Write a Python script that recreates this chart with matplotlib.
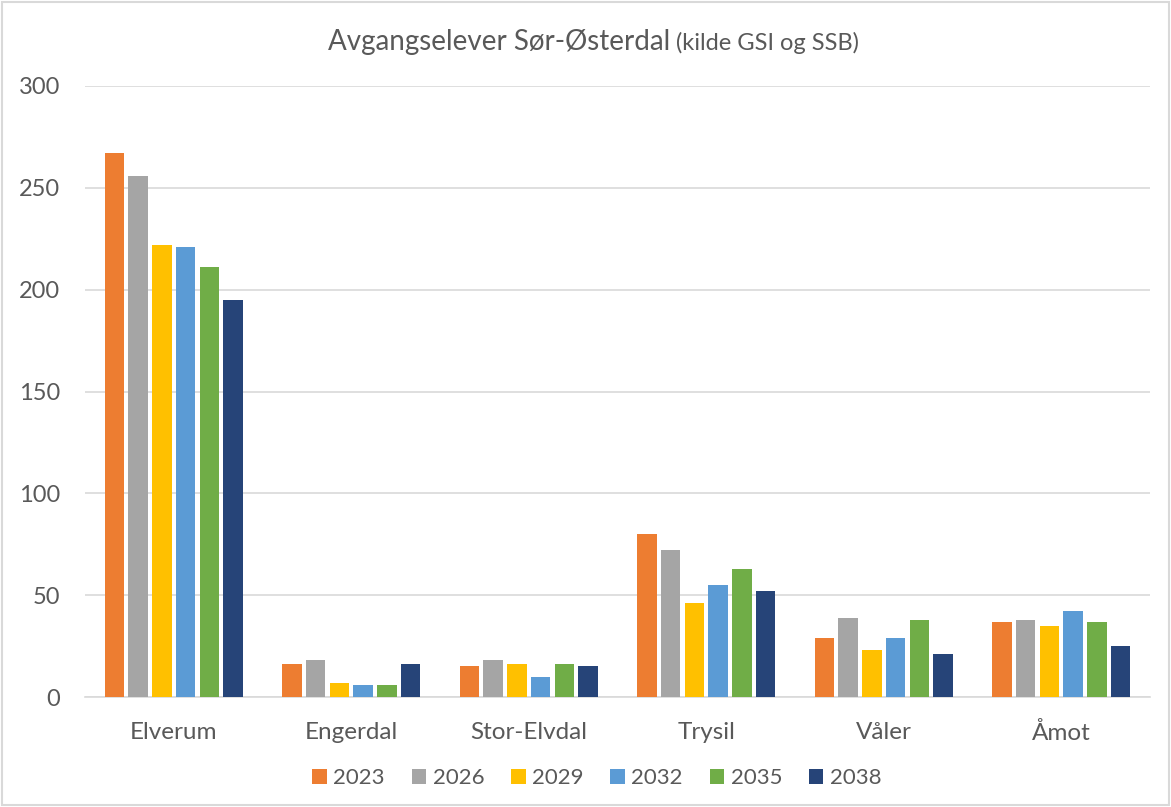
import matplotlib
matplotlib.use("Agg")
import matplotlib.pyplot as plt
import numpy as np
from matplotlib.patches import Rectangle

# Avgangselever per kommune (kilde GSI og SSB)
kommuner = ["Elverum", "Engerdal", "Stor-Elvdal", "Trysil", "Våler", "Åmot"]
years = ["2023", "2026", "2029", "2032", "2035", "2038"]
v2023 = [267, 16, 15, 80, 29, 37]
v2026 = [256, 18, 18, 72, 39, 38]
v2029 = [222, 7, 16, 46, 23, 35]
v2032 = [221, 6, 10, 55, 29, 42]
v2035 = [211, 6, 16, 63, 38, 37]
v2038 = [195, 16, 15, 52, 21, 25]
series = [v2023, v2026, v2029, v2032, v2035, v2038]
colors = ["#ED7D31", "#A5A5A5", "#FFC000", "#5B9BD5", "#70AD47", "#264478"]

plt.rcParams["font.family"] = ["Lato", "DejaVu Sans"]
TXT = "#595959"

fig = plt.figure(figsize=(11.71, 8.07), dpi=100)
ax = fig.add_axes([85 / 1171, 1 - 697 / 807, (1150 - 85) / 1171, (697 - 86) / 807])

x = np.arange(len(kommuner))
slot = 0.1335
width = 0.11
for i, (vals, col) in enumerate(zip(series, colors)):
    offs = (i - 2.5) * slot
    ax.bar(x + offs, vals, width, color=col, label=years[i], zorder=3)

ax.set_xlim(-0.5, len(kommuner) - 0.5)
ax.set_ylim(0, 300)
ax.set_yticks(range(0, 301, 50))
ax.yaxis.grid(True, color="#D9D9D9", linewidth=1.2, zorder=0)
ax.set_axisbelow(True)
for s in ["top", "right", "left"]:
    ax.spines[s].set_visible(False)
ax.spines["bottom"].set_color("#D9D9D9")
ax.spines["bottom"].set_linewidth(1.2)
ax.tick_params(axis="both", length=0, colors=TXT)
ax.tick_params(axis="x", labelsize=17.5, pad=18)
ax.tick_params(axis="y", labelsize=17, pad=18)
ax.set_xticks(x)
ax.set_xticklabels(kommuner)

fig.text(670 / 1171, 1 - 42 / 807, "Avgangselever Sør-Østerdal", ha="right", va="center",
         fontsize=20, color=TXT)
fig.text(670 / 1171, 1 - 43 / 807, " (kilde GSI og SSB)", ha="left", va="center",
         fontsize=17, color=TXT)

leg = fig.legend(loc="center", bbox_to_anchor=(597 / 1171, 1 - 778 / 807), ncol=6,
                 frameon=False, fontsize=16, handlelength=0.65, handleheight=0.65,
                 handletextpad=0.3, columnspacing=1.2)
for t in leg.get_texts():
    t.set_color(TXT)

fig.patches.append(Rectangle((0.002, 0.002), 0.996, 0.996, transform=fig.transFigure,
                             fill=False, edgecolor="#D9D9D9", linewidth=1.5))

fig.savefig("out.png", dpi=100)
